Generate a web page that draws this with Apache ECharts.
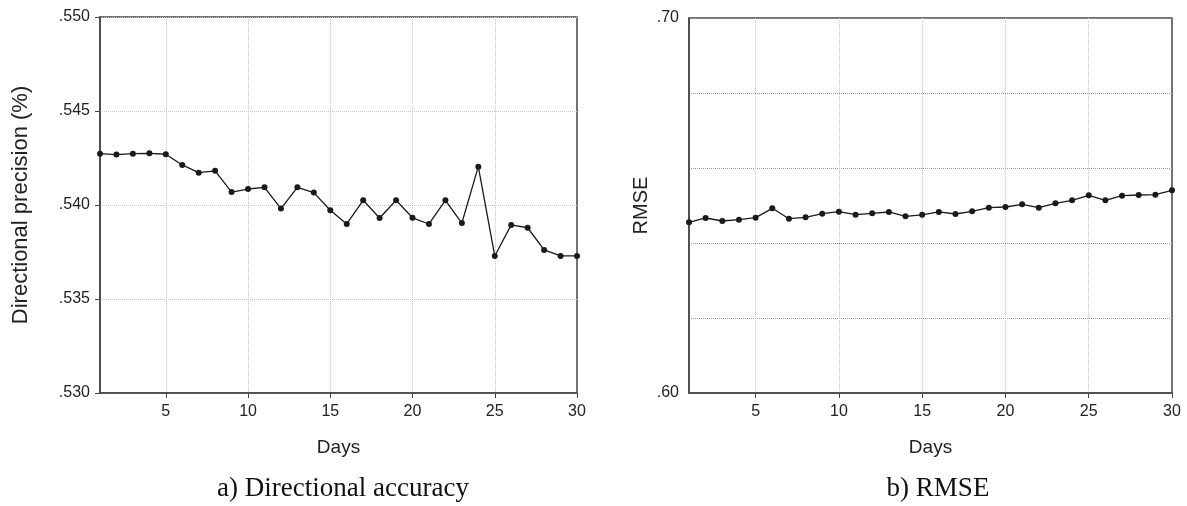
<!DOCTYPE html>
<html lang="en">
<head>
    <meta charset="UTF-8">
    <title>Directional accuracy and RMSE</title>
    <style>
        html, body { margin: 0; padding: 0; background: #fff; }
        #main { width: 1187px; height: 506px; }
    </style>
</head>
<body>
<div id="main"></div>
<script src="https://cdn.jsdelivr.net/npm/echarts@6/dist/echarts.min.js"></script>
<script>
    var days = [];
    for (var d = 1; d <= 30; d++) days.push(String(d));

    // a) directional precision per day
    var accuracy = [0.54273, 0.54268, 0.54273, 0.54275, 0.54270, 0.54213, 0.54172, 0.54182, 0.54069, 0.54085,
        0.54094, 0.53981, 0.54094, 0.54066, 0.53972, 0.53899, 0.54025, 0.53931, 0.54025, 0.53932,
        0.53899, 0.54025, 0.53904, 0.54204, 0.53729, 0.53894, 0.53879, 0.53761, 0.53729, 0.53729];

    // b) RMSE per day
    var rmse = [0.64552, 0.64667, 0.64587, 0.64621, 0.64675, 0.64925, 0.64648, 0.64685, 0.64781, 0.64835,
        0.64755, 0.64792, 0.64827, 0.64712, 0.64752, 0.64830, 0.64773, 0.64845, 0.64941, 0.64960,
        0.65032, 0.64941, 0.65059, 0.65139, 0.65272, 0.65139, 0.65261, 0.65280, 0.65288, 0.65405];

    var captions = ['a) Directional accuracy', 'b) RMSE'];

    var myChart = echarts.init(document.getElementById('main'));

    var axisColor = '#444';
    var labelFont = {fontFamily: 'Liberation Sans', fontSize: 16, color: '#222'};
    var every5 = function (index, value) { return Number(value) % 5 === 0; };
    var every5Inner = function (index, value) { var n = Number(value); return n % 5 === 0 && n < 30; };

    function xAxisFor(gridIndex) {
        return {
            type: 'category',
            gridIndex: gridIndex,
            data: days,
            boundaryGap: false,
            name: 'Days',
            nameLocation: 'middle',
            nameGap: 45,
            nameTextStyle: {fontFamily: 'Liberation Sans', fontSize: 19, color: '#222'},
            axisLine: {lineStyle: {color: axisColor, width: 1.5}},
            axisTick: {show: true, interval: every5, length: 5, lineStyle: {color: axisColor}},
            axisLabel: Object.assign({interval: every5, margin: 11}, labelFont),
            splitLine: {show: true, interval: every5Inner, lineStyle: {color: '#c4c4c4', type: 'dotted', width: 1}}
        };
    }

    function serieFor(name, idx, data) {
        return {
            name: name,
            type: 'line',
            xAxisIndex: idx,
            yAxisIndex: idx,
            data: data,
            symbol: 'circle',
            symbolSize: 6,
            itemStyle: {color: '#1a1a1a'},
            lineStyle: {color: '#1a1a1a', width: 1.3},
            animation: false
        };
    }

    var captionStyle = {fontFamily: 'Liberation Serif', fontSize: 27, fontWeight: 'normal', color: '#111'};

    var option = {
        backgroundColor: '#fff',
        animation: false,
        grid: [
            {left: 100, right: 610, top: 17, bottom: 113, show: true, borderColor: axisColor, borderWidth: 1.5},
            {left: 689, right: 15, top: 18, bottom: 113, show: true, borderColor: axisColor, borderWidth: 1.5}
        ],
        title: [
            {text: captions[0], left: 338, top: 470, textAlign: 'center', textStyle: captionStyle},
            {text: captions[1], left: 933, top: 470, textAlign: 'center', textStyle: captionStyle}
        ],
        xAxis: [xAxisFor(0), xAxisFor(1)],
        yAxis: [
            {
                type: 'value',
                gridIndex: 0,
                min: 0.530,
                max: 0.550,
                interval: 0.005,
                name: 'Directional precision (%)',
                nameLocation: 'middle',
                nameGap: 68,
                nameTextStyle: {fontFamily: 'Liberation Sans', fontSize: 22, color: '#222'},
                axisLine: {show: true, lineStyle: {color: axisColor, width: 1.5}},
                axisTick: {show: true, length: 5, lineStyle: {color: axisColor}},
                axisLabel: Object.assign({
                    margin: 10,
                    formatter: function (v) { return v.toFixed(3).replace(/^0/, ''); }
                }, labelFont),
                splitLine: {show: true, lineStyle: {color: '#c4c4c4', type: 'dotted', width: 1}}
            },
            {
                type: 'value',
                gridIndex: 1,
                min: 0.60,
                max: 0.70,
                interval: 0.02,
                name: 'RMSE',
                nameLocation: 'middle',
                nameGap: 38,
                nameTextStyle: {fontFamily: 'Liberation Sans', fontSize: 20, color: '#222'},
                axisLine: {show: true, lineStyle: {color: axisColor, width: 1.5}},
                axisTick: {show: false},
                axisLabel: Object.assign({
                    margin: 10,
                    formatter: function (v) {
                        var r = Math.round(v * 100);
                        return (r === 60 || r === 70) ? v.toFixed(2).replace(/^0/, '') : '';
                    }
                }, labelFont),
                splitLine: {show: true, lineStyle: {color: '#9a9a9a', type: 'dotted', width: 1}}
            }
        ],
        series: [
            serieFor('Directional precision', 0, accuracy),
            serieFor('RMSE', 1, rmse)
        ]
    };

    myChart.setOption(option);
</script>
</body>
</html>
